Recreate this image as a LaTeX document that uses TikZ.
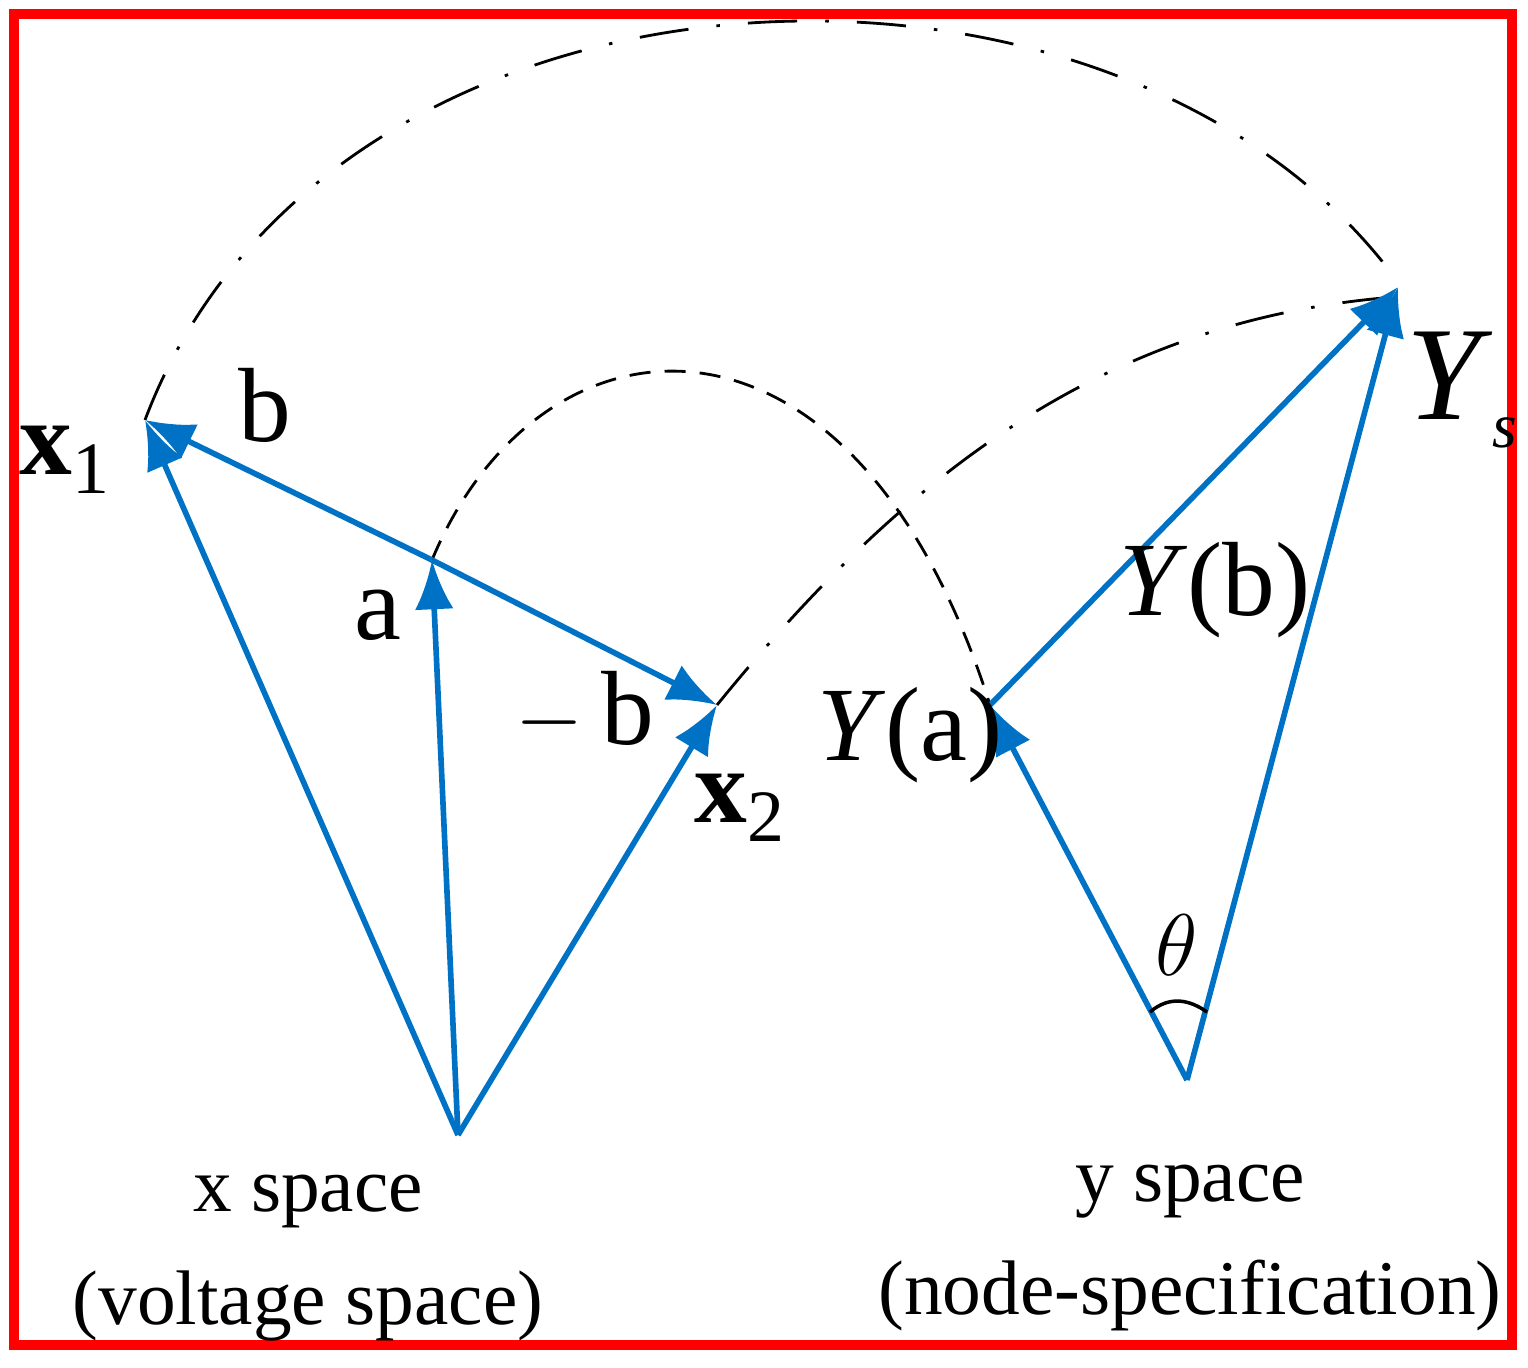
\documentclass[tikz,border=0pt]{standalone}
\usepackage{fontspec}
\setmainfont{Liberation Serif}
\usetikzlibrary{arrows.meta}
\definecolor{vblue}{RGB}{0,114,198}
\begin{document}
\begin{tikzpicture}[x=0.01cm,y=-0.01cm,
                    vec/.style={vblue,line width=1.6pt,-{Latex[length=14pt,width=11pt]}},
                    dd/.style={line width=0.8pt,dash pattern=on 14pt off 8pt on 1pt off 8pt},
                    dsh/.style={line width=0.8pt,dash pattern=on 6pt off 4pt},
                    lab/.style={font=\fontsize{30}{34}\selectfont}]
\useasboundingbox (0,0) rectangle (1528,1367);
\draw[red,line width=3pt] (14,14) rectangle (1512,1345);
\coordinate (O1) at (458,1135);
\coordinate (X1) at (145,420);
\coordinate (A) at (432,560);
\coordinate (X2) at (717,705);
\coordinate (O2) at (1187,1080);
\coordinate (YA) at (990,705);
\coordinate (YS) at (1398,287);

\draw[dd] (X1) .. controls (330,-70) and (1120,-100) .. (1398,282);
\draw[dsh] (A) .. controls (540,300) and (853,273) .. (YA);
\draw[dd] (X2) .. controls (900,480) and (1100,320) .. (1395,297);

\draw[vec] (O1) -- (X1);
\draw[vec] (O1) -- (A);
\draw[vec] (O1) -- (X2);
\draw[vec] (A) -- (X1);
\draw[vec] (A) -- (X2);
\draw[vec] (O2) -- (YA);
\draw[vec] (YA) -- (YS);
\draw[vec] (O2) -- (YS);
\draw[line width=1pt] (1150,1012) .. controls (1170,995) and (1190,1000) .. (1207,1012);

\node[lab] (lb) at (265,405) {b};
\node[lab] (la) at (378,615) {a};
\node[lab] (lmb) at (585,712) {$-$\,b};
\node[lab] (lx1) at (65,460) {\textbf{x}\textsubscript{1}};
\node[lab] (lx2) at (740,808) {\textbf{x}\textsubscript{2}};
\node[lab] (lya) at (910,735) {\textit{Y}(a)};
\node[lab] (lyb) at (1215,590) {\textit{Y}(b)};
\node[lab,font=\fontsize{38}{40}\selectfont] (lys) at (1462,390) {\textit{Y}{\fontsize{18}{20}\selectfont\raisebox{-8pt}{\textit{s}}}};
\node[lab,font=\fontsize{38}{40}\selectfont] (lth) at (1177,945) {$\theta$};
\node[font=\fontsize{22}{32}\selectfont,align=center] (xs) at (308,1258) {x space\\(voltage space)};
\node[font=\fontsize{22}{32}\selectfont,align=center] (ys) at (1190,1248) {y space\\(node-specification)};
\end{tikzpicture}
\end{document}
